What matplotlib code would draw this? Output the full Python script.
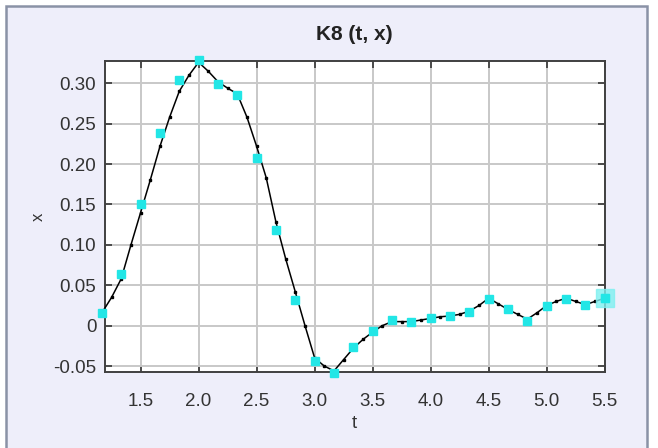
import matplotlib
matplotlib.use("Agg")
import matplotlib.pyplot as plt
from matplotlib.patches import Rectangle

# Measured samples of x(t)
t_obs = [1.167, 1.333, 1.5, 1.667, 1.833, 2.0, 2.167, 2.333, 2.5, 2.667,
         2.833, 3.0, 3.167, 3.333, 3.5, 3.667, 3.833, 4.0, 4.167, 4.333,
         4.5, 4.667, 4.833, 5.0, 5.167, 5.333, 5.5]
x_obs = [0.016, 0.064, 0.151, 0.238, 0.304, 0.329, 0.299, 0.286, 0.208, 0.118,
         0.032, -0.044, -0.059, -0.027, -0.007, 0.007, 0.005, 0.009, 0.012, 0.017,
         0.033, 0.020, 0.006, 0.024, 0.033, 0.026, 0.034]

# Model curve on a finer grid
t_fit = [1.167, 1.25, 1.333, 1.417, 1.5, 1.583, 1.667, 1.75, 1.833, 1.917,
         2.0, 2.083, 2.167, 2.25, 2.333, 2.417, 2.5, 2.583, 2.667, 2.75,
         2.833, 2.917, 3.0, 3.083, 3.167, 3.25, 3.333, 3.417, 3.5, 3.583,
         3.667, 3.75, 3.833, 3.917, 4.0, 4.083, 4.167, 4.25, 4.333, 4.417,
         4.5, 4.583, 4.667, 4.75, 4.833, 4.917, 5.0, 5.083, 5.167, 5.25,
         5.333, 5.417, 5.5]
x_fit = [0.016, 0.035, 0.058, 0.100, 0.140, 0.180, 0.222, 0.258, 0.290, 0.310,
         0.326, 0.315, 0.302, 0.294, 0.287, 0.258, 0.222, 0.183, 0.128, 0.083,
         0.042, 0.000, -0.040, -0.050, -0.056, -0.042, -0.028, -0.017, -0.008, 0.000,
         0.005, 0.005, 0.005, 0.007, 0.009, 0.011, 0.012, 0.014, 0.018, 0.025,
         0.034, 0.027, 0.020, 0.014, 0.008, 0.016, 0.025, 0.030, 0.034, 0.030,
         0.026, 0.030, 0.034]

x_ticks = [1.5, 2.0, 2.5, 3.0, 3.5, 4.0, 4.5, 5.0, 5.5]
x_ticklabels = ["1.5", "2.0", "2.5", "3.0", "3.5", "4.0", "4.5", "5.0", "5.5"]
y_ticks = [-0.05, 0.0, 0.05, 0.10, 0.15, 0.20, 0.25, 0.30]
y_ticklabels = ["-0.05", "0", "0.05", "0.10", "0.15", "0.20", "0.25", "0.30"]

plt.rcParams["font.family"] = ["Liberation Sans", "DejaVu Sans"]

fig = plt.figure(figsize=(6.58, 4.48), dpi=100, facecolor="white")

# lavender panel with a grey frame behind the axes
panel = Rectangle((6 / 658, -0.01), 641 / 658, 1 - 6 / 448 + 0.01,
                  transform=fig.transFigure, facecolor="#EEEEFA",
                  edgecolor="#8A92A6", linewidth=1.8, zorder=-10)
fig.patches.append(panel)

ax = fig.add_axes([0.159, 0.1696, 0.760, 0.6949])
ax.set_facecolor("white")

ax.plot(t_fit, x_fit, color="black", linewidth=1.1, marker="s",
        markersize=1.5, zorder=3, clip_on=False)
ax.plot(t_obs, x_obs, linestyle="none", marker="s", markersize=6,
        color="#22E6E6", zorder=4, clip_on=False)
# the last sample is highlighted
ax.plot(t_obs[-1], x_obs[-1], linestyle="none", marker="s", markersize=13,
        color="#7FF0F0", alpha=0.8, zorder=4, clip_on=False)
ax.plot(t_obs[-1], x_obs[-1], linestyle="none", marker="s", markersize=6,
        color="#22E6E6", zorder=5, clip_on=False)

ax.set_xlim(1.19, 5.5)
ax.set_ylim(-0.0574, 0.328)
ax.set_xticks(x_ticks)
ax.set_xticklabels(x_ticklabels)
ax.set_yticks(y_ticks)
ax.set_yticklabels(y_ticklabels)

ax.grid(True, color="#C8C8C8", linewidth=1.4)
ax.set_axisbelow(True)
ax.tick_params(direction="in", length=5, width=1.3, color="#404040",
               labelsize=13.5, labelcolor="#333333", top=True, right=True)
ax.tick_params(axis="x", pad=15)
ax.tick_params(axis="y", pad=6)
for spine in ax.spines.values():
    spine.set_color("#404040")
    spine.set_linewidth(1.4)

ax.set_title("K8 (t, x)", fontsize=15, fontweight="bold", color="#222222", pad=15)
ax.set_xlabel("t", fontsize=13.5, color="#333333", labelpad=4)
ax.set_ylabel("x", fontsize=12, color="#333333", labelpad=5)

fig.savefig("out.png", dpi=100, facecolor=fig.get_facecolor())
